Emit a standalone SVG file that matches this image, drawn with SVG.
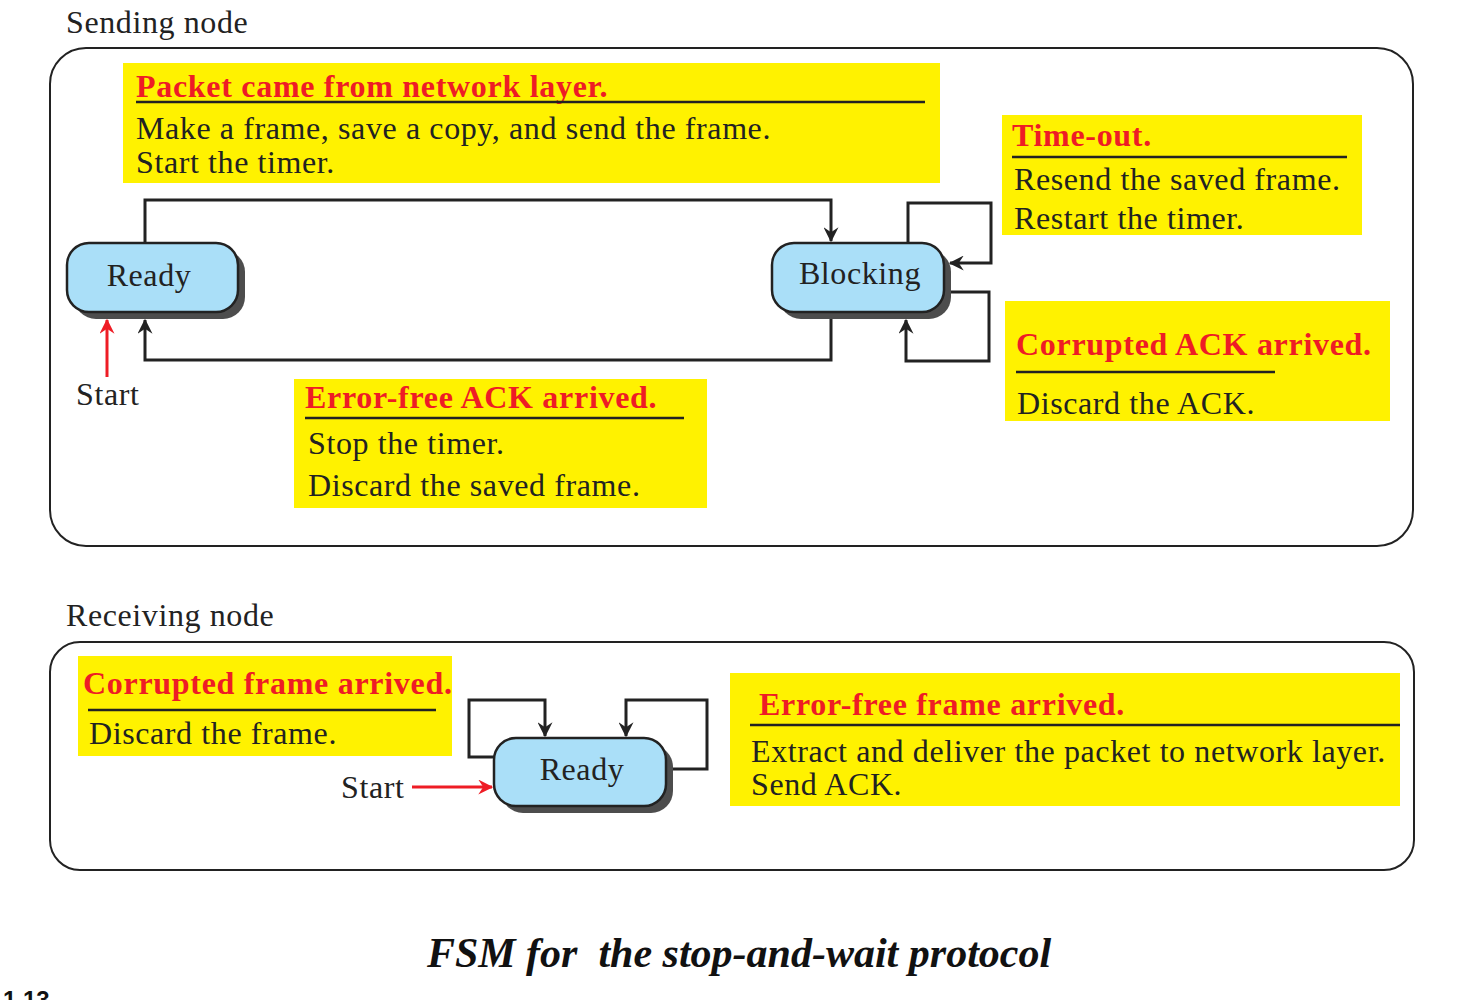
<svg xmlns="http://www.w3.org/2000/svg" width="1472" height="1000" viewBox="0 0 1472 1000">
<style>
.t{font-family:"Liberation Serif","Times New Roman",serif;font-size:32px;letter-spacing:0.6px;fill:#222}
.r{font-family:"Liberation Serif","Times New Roman",serif;font-size:32px;letter-spacing:0.7px;font-weight:bold;fill:#ee1c25}
.y{fill:#fff200}
.ul{stroke:#222;stroke-width:2.5}
.frame{fill:none;stroke:#222;stroke-width:2}
.sh{fill:#4d4d4d}
.nd{fill:#aadff8;stroke:#222;stroke-width:2.5}
.c{fill:none;stroke:#222;stroke-width:3}
.cr{fill:none;stroke:#ee1c25;stroke-width:3}
</style>
<defs>
<marker id="ab" viewBox="0 0 12 12" refX="11" refY="6" markerWidth="15" markerHeight="15" markerUnits="userSpaceOnUse" orient="auto"><path d="M0,0 L12,6 L0,12 L4,6 Z" fill="#222"/></marker>
<marker id="ar" viewBox="0 0 12 12" refX="11" refY="6" markerWidth="15" markerHeight="15" markerUnits="userSpaceOnUse" orient="auto"><path d="M0,0 L12,6 L0,12 L4,6 Z" fill="#ee1c25"/></marker>
</defs>

<text class="t" x="66" y="33">Sending node</text>
<rect class="frame" x="50" y="48" width="1363" height="498" rx="36"/>
<text class="t" x="66" y="626">Receiving node</text>
<rect class="frame" x="50" y="642" width="1364" height="228" rx="30"/>

<g id="label-packet">
<rect class="y" x="123" y="63" width="817" height="120"/>
<text class="r" x="136" y="97">Packet came from network layer.</text>
<line class="ul" x1="136" y1="102" x2="925" y2="102"/>
<text class="t" x="136" y="139">Make a frame, save a copy, and send the frame.</text>
<text class="t" x="136" y="173">Start the timer.</text>
</g>
<g id="label-timeout">
<rect class="y" x="1002" y="115" width="360" height="120"/>
<text class="r" x="1012" y="146">Time-out.</text>
<line class="ul" x1="1012" y1="157" x2="1347" y2="157"/>
<text class="t" x="1014" y="190">Resend the saved frame.</text>
<text class="t" x="1014" y="229">Restart the timer.</text>
</g>
<g id="label-corrupt-ack">
<rect class="y" x="1005" y="301" width="385" height="120"/>
<text class="r" x="1016" y="355">Corrupted ACK arrived.</text>
<line class="ul" x1="1016" y1="372" x2="1275" y2="372"/>
<text class="t" x="1017" y="414">Discard the ACK.</text>
</g>
<g id="label-errorfree-ack">
<rect class="y" x="294" y="379" width="413" height="129"/>
<text class="r" x="305" y="408">Error-free ACK arrived.</text>
<line class="ul" x1="305" y1="418" x2="684" y2="418"/>
<text class="t" x="308" y="454">Stop the timer.</text>
<text class="t" x="308" y="496">Discard the saved frame.</text>
</g>
<g id="label-corrupt-frame">
<rect class="y" x="78" y="656" width="374" height="100"/>
<text class="r" x="83" y="694">Corrupted frame arrived.</text>
<line class="ul" x1="88" y1="710" x2="436" y2="710"/>
<text class="t" x="89" y="744">Discard the frame.</text>
</g>
<g id="label-errorfree-frame">
<rect class="y" x="730" y="673" width="670" height="133"/>
<text class="r" x="759" y="715">Error-free frame arrived.</text>
<line class="ul" x1="750" y1="725" x2="1400" y2="725"/>
<text class="t" x="751" y="762">Extract and deliver the packet to network layer.</text>
<text class="t" x="751" y="795">Send ACK.</text>
</g>

<g id="connectors">
<path class="c" d="M145,243 V200 H831 V241" marker-end="url(#ab)"/>
<path class="c" d="M831,312 V360 H145 V320" marker-end="url(#ab)"/>
<path class="c" d="M908,243 V203 H991 V263 H950" marker-end="url(#ab)"/>
<path class="c" d="M944,292 H989 V361 H906 V320" marker-end="url(#ab)"/>
<path class="cr" d="M107,377 V320" marker-end="url(#ar)"/>
<path class="c" d="M494,757 H469 V700 H545 V736" marker-end="url(#ab)"/>
<path class="c" d="M666,769 H707 V700 H626 V736" marker-end="url(#ab)"/>
<path class="cr" d="M412,787 H492" marker-end="url(#ar)"/>
</g>

<g id="node-ready-send">
<rect class="sh" x="74" y="250" width="171" height="69" rx="22"/>
<rect class="nd" x="67" y="243" width="171" height="69" rx="22"/>
<text class="t" x="149" y="286" text-anchor="middle">Ready</text>
</g>
<g id="node-blocking">
<rect class="sh" x="779" y="250" width="172" height="69" rx="22"/>
<rect class="nd" x="772" y="243" width="172" height="69" rx="22"/>
<text class="t" x="860" y="284" text-anchor="middle">Blocking</text>
</g>
<g id="node-ready-recv">
<rect class="sh" x="501" y="745" width="172" height="68" rx="22"/>
<rect class="nd" x="494" y="738" width="172" height="68" rx="22"/>
<text class="t" x="582" y="780" text-anchor="middle">Ready</text>
</g>

<text class="t" x="76" y="405">Start</text>
<text class="t" x="341" y="798">Start</text>

<text x="739" y="967" text-anchor="middle" style="font-family:'Liberation Serif','Times New Roman',serif;font-size:42px;font-weight:bold;font-style:italic;fill:#111" xml:space="preserve">FSM for  the stop-and-wait protocol</text>
<text x="3" y="1008" style="font-family:'Liberation Sans',Arial,sans-serif;font-size:24px;font-weight:bold;fill:#111">1.13</text>
</svg>
